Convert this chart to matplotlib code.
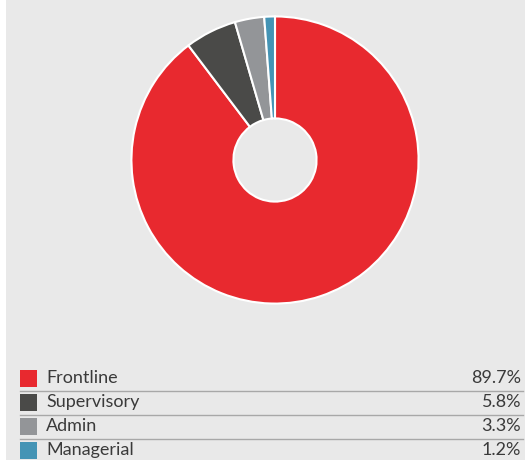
import matplotlib
matplotlib.use("Agg")
import matplotlib.pyplot as plt
from matplotlib.patches import Rectangle
from matplotlib.lines import Line2D

# data
labels = ["Frontline", "Supervisory", "Admin", "Managerial"]
shares = [89.7, 5.8, 3.3, 1.2]
colors = ["#e8292f", "#4a4a48", "#939598", "#4494b5"]

W, H = 525, 462
BG = "#e9e9e9"

fig = plt.figure(figsize=(W / 100, H / 100), dpi=100)
fig.patch.set_facecolor("white")

# grey panel (thin white strip on the left)
fig.patches.append(
    Rectangle((6 / W, 2 / H), 1 - 6 / W, 1 - 2 / H, transform=fig.transFigure,
              facecolor=BG, edgecolor="none", zorder=-5)
)

# donut
cx, cy, r = 275, 160, 145
ax = fig.add_axes([(cx - r) / W, (H - cy - r) / H, 2 * r / W, 2 * r / H])
ax.set_zorder(2)
ax.patch.set_visible(False)
ax.pie(
    shares,
    colors=colors,
    startangle=90,
    counterclock=False,
    radius=1,
    wedgeprops=dict(width=1 - 42 / 145, edgecolor="white", linewidth=1.5),
)
ax.set_xlim(-1.01, 1.01)
ax.set_ylim(-1.01, 1.01)
ax.set_aspect("equal")
ax.axis("off")

# legend table
row_y = [378, 402, 426, 450]
for i, (lab, val, col) in enumerate(zip(labels, shares, colors)):
    y = row_y[i]
    fig.patches.append(
        Rectangle((20 / W, (H - y - 8.5) / H), 17 / W, 17 / H,
                  transform=fig.transFigure, facecolor=col, edgecolor="none")
    )
    fig.text(46 / W, (H - y) / H, lab, ha="left", va="center",
             fontsize=13, color="#3a3a3a", family="Lato")
    fig.text(521 / W, (H - y) / H, f"{val:.1f}%", ha="right", va="center",
             fontsize=13, color="#3a3a3a", family="Lato")
    if i < len(labels) - 1:
        ly = (H - (y + 12.5)) / H
        fig.lines.append(
            Line2D([20 / W, 523 / W], [ly, ly], transform=fig.transFigure,
                   color="#a8a8a8", linewidth=1)
        )

fig.savefig("out.png", dpi=100, facecolor=fig.get_facecolor())
